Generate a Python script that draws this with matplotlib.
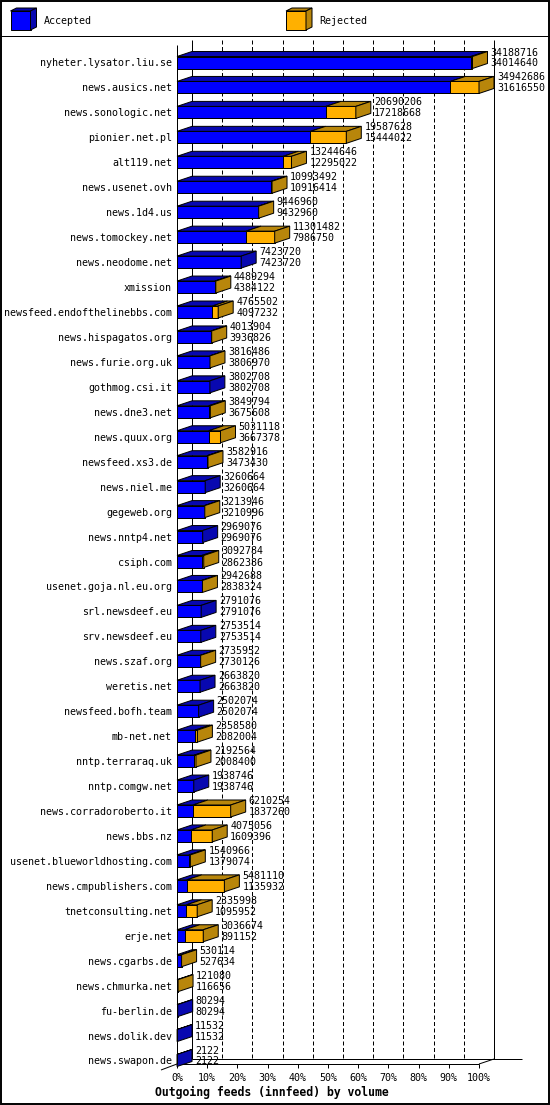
import matplotlib
matplotlib.use("Agg")
import matplotlib.pyplot as plt
from matplotlib.patches import Polygon, Rectangle

# Outgoing feeds (innfeed): offered (upper number) and accepted (lower number)
hosts = [
    "nyheter.lysator.liu.se", "news.ausics.net", "news.sonologic.net",
    "pionier.net.pl", "alt119.net", "news.usenet.ovh", "news.1d4.us",
    "news.tomockey.net", "news.neodome.net", "xmission",
    "newsfeed.endofthelinebbs.com", "news.hispagatos.org", "news.furie.org.uk",
    "gothmog.csi.it", "news.dne3.net", "news.quux.org", "newsfeed.xs3.de",
    "news.niel.me", "gegeweb.org", "news.nntp4.net", "csiph.com",
    "usenet.goja.nl.eu.org", "srl.newsdeef.eu", "srv.newsdeef.eu",
    "news.szaf.org", "weretis.net", "newsfeed.bofh.team", "mb-net.net",
    "nntp.terraraq.uk", "nntp.comgw.net", "news.corradoroberto.it",
    "news.bbs.nz", "usenet.blueworldhosting.com", "news.cmpublishers.com",
    "tnetconsulting.net", "erje.net", "news.cgarbs.de", "news.chmurka.net",
    "fu-berlin.de", "news.dolik.dev", "news.swapon.de",
]
offered = [
    34188716, 34942686, 20690206, 19587628, 13244646, 10993492, 9446960,
    11301482, 7423720, 4489294, 4765502, 4013904, 3816486, 3802708,
    3849794, 5031118, 3582916, 3260664, 3213946, 2969076, 3092784,
    2942688, 2791076, 2753514, 2735952, 2663820, 2502074, 2358580,
    2192564, 1938746, 6210254, 4075056, 1540966, 5481110, 2335998,
    3036674, 530114, 121080, 80294, 11532, 2122,
]
accepted = [
    34014640, 31616550, 17218668, 15444022, 12295022, 10916414, 9432960,
    7986750, 7423720, 4384122, 4097232, 3936826, 3806970, 3802708,
    3675608, 3667378, 3473430, 3260664, 3210996, 2969076, 2862386,
    2838324, 2791076, 2753514, 2730126, 2663820, 2502074, 2082004,
    2008400, 1938746, 1837260, 1609396, 1379074, 1135932, 1095952,
    891152, 527634, 116656, 80294, 11532, 2122,
]
pct_labels = ["0%", "10%", "20%", "30%", "40%", "50%", "60%", "70%", "80%", "90%", "100%"]

BLUE, BLUE_DARK = "#0000ff", "#0808b0"
ORANGE, ORANGE_DARK = "#ffb000", "#b8860b"
FONT = "DejaVu Sans Mono"
LW = 0.72

W, H = 550, 1105
fig = plt.figure(figsize=(W / 100, H / 100), dpi=100)
fig.patch.set_facecolor("white")

# pixel-space background axes for frame and legend
bg = fig.add_axes([0, 0, 1, 1])
bg.set_xlim(0, W)
bg.set_ylim(H, 0)
bg.axis("off")

# plot area geometry (pixels)
x0, x100 = 177, 479
ytop, yfloor = 45, 1064
row0, pitch = 62.5, 24.95
depth_x, depth_y = 15, 5

ax = fig.add_axes([x0 / W, (H - yfloor) / H, (x100 - x0) / W, (yfloor - ytop) / H])
xmax = max(offered)
ax.set_xlim(0, xmax)
y_bot = (yfloor - row0) / pitch
y_top = (ytop - row0) / pitch
ax.set_ylim(y_bot, y_top)
ax.axis("off")

dx = depth_x / (x100 - x0) * xmax
dy = depth_y / pitch
half = 6 / pitch


def poly(axis, pts, fc, z=3):
    axis.add_patch(Polygon(pts, closed=True, fc=fc, ec="black", lw=LW,
                           clip_on=False, zorder=z, joinstyle="miter"))


def segment(axis, y, a, b, front, dark, ddx, ddy, h):
    top, bot = y - h, y + h
    poly(axis, [(a, top), (b, top), (b, bot), (a, bot)], front)
    poly(axis, [(a, top), (b, top), (b + ddx, top - ddy), (a + ddx, top - ddy)], dark)


def side(axis, y, b, dark, ddx, ddy, h):
    top, bot = y - h, y + h
    poly(axis, [(b, top), (b, bot), (b + ddx, bot - ddy), (b + ddx, top - ddy)], dark)


def line(axis, xs, ys, **kw):
    kw.setdefault("color", "black")
    kw.setdefault("lw", LW)
    axis.plot(xs, ys, clip_on=False, solid_capstyle="butt", **kw)


def label(text, xy, off, ha):
    ax.annotate(text, xy=xy, xytext=off, textcoords="offset pixels",
                ha=ha, va="center", fontsize=7.2, family=FONT, zorder=5,
                annotation_clip=False)


# back wall: dashed grid, back axis, right border
for k in range(1, 10):
    line(ax, [k * xmax / 10 + dx] * 2, [y_top - dy, y_bot - dy], ls=(0, (4, 2.5)), zorder=1)
line(ax, [dx, dx], [y_top - dy, y_bot - dy], zorder=1)
line(ax, [xmax + dx] * 2, [y_top - dy, y_bot - dy], zorder=1)
# floor
line(ax, [dx, xmax + dx + 28 / (x100 - x0) * xmax], [y_bot - dy] * 2, zorder=1)
line(ax, [0, xmax], [y_bot, y_bot], zorder=1)
line(ax, [xmax, xmax + dx], [y_bot, y_bot - dy], zorder=1)
line(ax, [-16 / (x100 - x0) * xmax, 0], [y_bot + 6 / pitch, y_bot], zorder=1)
line(ax, [0, 0], [y_top, y_bot], zorder=4)

# bars
for i, (name, tot, acc) in enumerate(zip(hosts, offered, accepted)):
    segment(ax, i, 0, acc, BLUE, BLUE_DARK, dx, dy, half)
    if tot > acc:
        segment(ax, i, acc, tot, ORANGE, ORANGE_DARK, dx, dy, half)
        side(ax, i, tot, ORANGE_DARK, dx, dy, half)
    else:
        side(ax, i, tot, BLUE_DARK, dx, dy, half)
    label(name, (0, i), (-5, -1), "right")
    label(str(tot), (tot + dx, i), (3, 10), "left")
    label(str(acc), (tot + dx, i), (3, -1), "left")

# x ticks and labels
for k, lab in enumerate(pct_labels):
    xv = k * xmax / 10
    line(ax, [xv, xv], [y_bot, y_bot + 4 / pitch], zorder=1)
    label(lab, (xv, y_bot), (0, -14), "center")

bg.text(155, 1092, "Outgoing feeds (innfeed) by volume", ha="left", va="center",
        fontsize=8.3, family=FONT, fontweight="bold")

# legend
for lx, front, dark, lab in [(10.5, BLUE, BLUE_DARK, "Accepted"),
                             (286, ORANGE, ORANGE_DARK, "Rejected")]:
    segment(bg, 20.5, lx, lx + 20, front, dark, 6, 3, 9.5)
    side(bg, 20.5, lx + 20, dark, 6, 3, 9.5)
    bg.text(lx + 33.5, 21, lab, ha="left", va="center", fontsize=7.2, family=FONT)

line(bg, [0, W], [36, 36])
bg.add_patch(Rectangle((0.5, 0.5), W - 1.5, H - 1.5, fill=False, ec="black", lw=1.4))

fig.savefig("out.png", dpi=100)
